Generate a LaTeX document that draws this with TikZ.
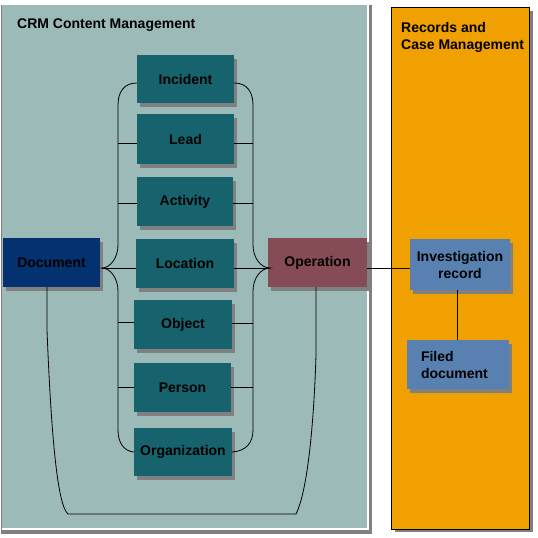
\documentclass[tikz,border=0pt]{standalone}
\usepackage{fontspec}
\setmainfont{Liberation Sans}
\usetikzlibrary{shadows,calc}
\definecolor{panelbg}{RGB}{155,186,184}
\definecolor{tealbox}{RGB}{22,99,110}
\definecolor{docblue}{RGB}{4,49,111}
\definecolor{operred}{RGB}{134,76,86}
\definecolor{recblue}{RGB}{88,128,176}
\definecolor{orangebg}{RGB}{240,160,0}
\definecolor{shadowgray}{RGB}{128,128,128}
\begin{document}
\begin{tikzpicture}[x=1pt,y=-1pt,
  txt/.style={font=\bfseries\fontsize{14}{17}\selectfont, text=black, inner sep=0pt},
  box/.style={txt, drop shadow={shadow xshift=3pt,shadow yshift=-4pt,fill=shadowgray,opacity=1}},
  ent/.style={box, fill=tealbox},
  conn/.style={draw=black, line width=0.8pt}]
\useasboundingbox (0,0) rectangle (538,538);
\fill[white] (0,0) rectangle (538,538);
% left panel
\fill[shadowgray] (1,5) rectangle (372,534);
\fill[white] (2,5) rectangle (369,530);
\fill[panelbg] (2,5) rectangle (367,528);
% right panel
\fill[shadowgray] (395,11) rectangle (533,532);
\filldraw[fill=orangebg, draw=black, line width=0.8pt] (391,7) rectangle (529,529);
% titles
\node[txt, anchor=base west] (crmtitle) at (17,28) {CRM Content Management};
\node[txt, anchor=north west, align=left] (rcmtitle) at (401,22) {Records and\\Case Management};
% entity nodes
\node[ent, minimum width=97pt, minimum height=48pt] (inc) at (185.5,79) {Incident};
\node[ent, minimum width=97pt, minimum height=50pt] (lead) at (185.5,139) {Lead};
\node[ent, minimum width=96pt, minimum height=49pt] (act) at (185,201.5) {Activity};
\node[ent, minimum width=98pt, minimum height=49pt] (loc) at (185,263.5) {Location};
\node[ent, minimum width=98pt, minimum height=49pt] (obj) at (183,324.5) {Object};
\node[ent, minimum width=97pt, minimum height=49pt] (per) at (182.5,387.5) {Person};
\node[ent, minimum width=98pt, minimum height=48pt] (org) at (183,452) {Organization};
\node[box, fill=docblue, minimum width=97pt, minimum height=49pt] (doc) at (51.5,262.5) {Document};
\node[box, fill=operred, minimum width=99pt, minimum height=49pt] (op) at (317.5,262.5) {Operation};
\node[box, fill=recblue, minimum width=100pt, minimum height=51pt, align=center] (inv) at (460,264.5) {Investigation\\record};
\node[box, fill=recblue, minimum width=102pt, minimum height=49pt, text width=74pt, align=left] (filed) at (458,364.5) {Filed\\document};
% brace tips
\coordinate (tipL) at (102,268);
\coordinate (tipR) at (270,268);
% left brace
\draw[conn] ([yshift=-4pt]inc.west) .. controls (124,83) and (118,92) .. (118,105) -- (118,245)
  .. controls (118,258) and (110,268) .. (tipL)
  .. controls (110,268) and (118,278) .. (118,291) -- (118,430)
  .. controls (118,443) and (124,451) .. (org.west);
% right brace
\draw[conn] ([yshift=-4pt]inc.east) .. controls (247,83) and (253,92) .. (253,105) -- (253,245)
  .. controls (253,258) and (261,268) .. (tipR)
  .. controls (261,268) and (253,278) .. (253,291) -- (253,430)
  .. controls (253,443) and (246,451) .. (org.east);
% ticks
\draw[conn] ([yshift=-4pt]lead.west) -- ++(-19,0);
\draw[conn] ([yshift=-1.5pt]act.west) -- ++(-19,0);
\draw[conn] ([yshift=2.5pt]obj.west) -- ++(-16,0);
\draw[conn] (per.west) -- ++(-16,0);
\draw[conn] ([yshift=-4pt]lead.east) -- ++(19,0);
\draw[conn] ([yshift=-1.5pt]act.east) -- ++(20,0);
\draw[conn] ([yshift=1.5pt]obj.east) -- ++(21,0);
\draw[conn] (per.east) -- ++(22,0);
% location links
\draw[conn] ([yshift=-4.5pt]loc.west) -- (tipL);
\draw[conn] ([yshift=-4.5pt]loc.east) -- (tipR);
% operation to record
\draw[conn] ([yshift=-5.5pt]op.east) -- ([yshift=-3.5pt]inv.west);
\draw[conn] ([xshift=-3pt]inv.south) -- ([xshift=-1pt]filed.north);
% bottom loop
\draw[conn] ([xshift=-4.5pt]doc.south) -- (47,330) .. controls (51,430) and (57,505) .. (68,514)
  -- (296,514) .. controls (308,490) and (314,420) .. (316,355) -- ([xshift=-1.5pt]op.south);
\end{tikzpicture}
\end{document}
